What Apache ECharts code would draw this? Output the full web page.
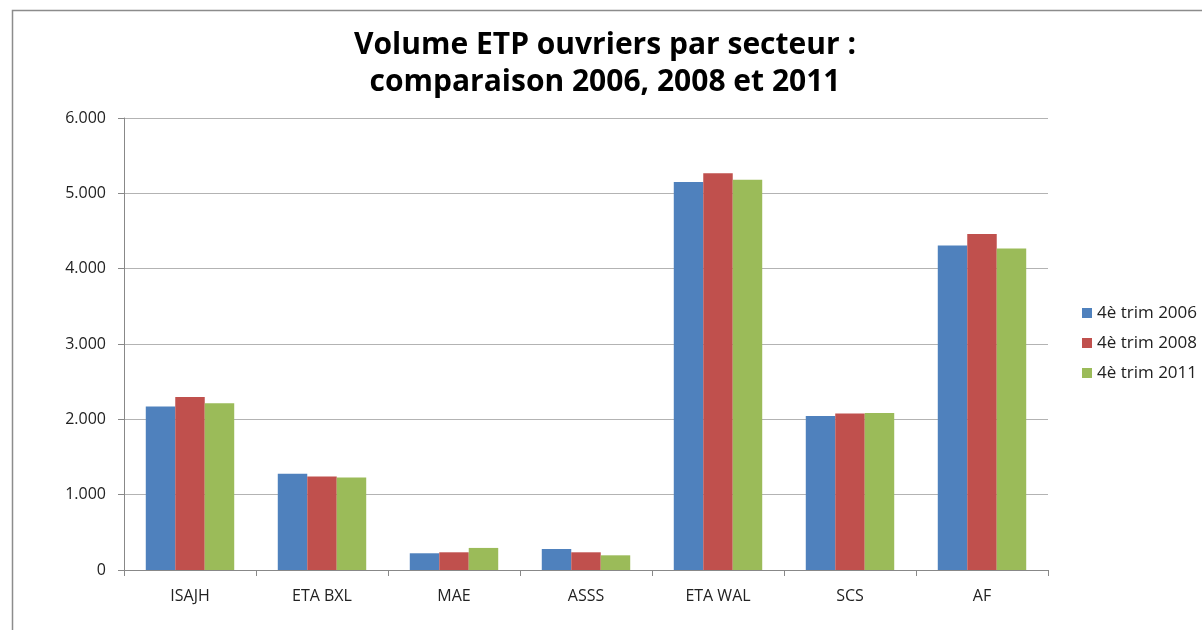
<!DOCTYPE html>
<html>
<head>
<meta charset="utf-8">
<script src="https://cdn.jsdelivr.net/npm/echarts@6/dist/echarts.min.js"></script>
<style>
  html, body { margin: 0; padding: 0; background: #ffffff; }
  #chart { width: 1202px; height: 630px; }
</style>
</head>
<body>
<div id="chart"></div>
<script>
// Sectors on the category axis
const categories = ['ISAJH', 'ETA BXL', 'MAE', 'ASSS', 'ETA WAL', 'SCS', 'AF'];
// Worker FTE volume per sector, Q4 of each year
const trim2006 = [2172, 1277, 222, 279, 5152, 2044, 4307];
const trim2008 = [2297, 1241, 235, 235, 5267, 2076, 4459];
const trim2011 = [2212, 1228, 293, 195, 5179, 2084, 4267];
const seriesNames = ['4è trim 2006', '4è trim 2008', '4è trim 2011'];
const yTicks = { min: 0, max: 6000, interval: 1000 };

const colors = ['#4F81BD', '#C0504D', '#9BBB59'];
const labelFont = "'Open Sans', sans-serif";

const chart = echarts.init(document.getElementById('chart'), null, { renderer: 'canvas' });

// Thousands separator as a dot: 6000 -> 6.000
function fmtThousands(v) {
  return String(v).replace(/\B(?=(\d{3})+(?!\d))/g, '.');
}

const data = [trim2006, trim2008, trim2011];

chart.setOption({
  animation: false,
  backgroundColor: '#ffffff',
  color: colors,
  graphic: [{
    type: 'polyline',
    shape: { points: [[12.5, 640], [12.5, 10.5], [1210, 10.5]] },
    style: { stroke: '#8c8c8c', lineWidth: 1.5, fill: null },
    silent: true
  }],
  title: {
    text: 'Volume ETP ouvriers par secteur :\ncomparaison 2006, 2008 et 2011',
    left: 600,
    textAlign: 'center',
    top: 22,
    textStyle: {
      fontFamily: labelFont,
      fontWeight: 'bold',
      fontSize: 30,
      lineHeight: 37,
      color: '#000000'
    }
  },
  legend: {
    orient: 'vertical',
    left: 1077,
    top: 299,
    itemWidth: 10,
    itemHeight: 10,
    itemGap: 12,
    icon: 'rect',
    textStyle: { fontFamily: labelFont, fontSize: 17, lineHeight: 18, color: '#222' },
    data: seriesNames
  },
  grid: { left: 124, right: 154, top: 118, bottom: 60, containLabel: false },
  xAxis: {
    type: 'category',
    data: categories,
    axisLine: { lineStyle: { color: '#888888', width: 1 } },
    axisTick: { show: true, length: 6, lineStyle: { color: '#888888' } },
    axisLabel: {
      margin: 18,
      fontFamily: labelFont,
      fontSize: 16,
      color: '#222'
    }
  },
  yAxis: {
    type: 'value',
    min: yTicks.min,
    max: yTicks.max,
    interval: yTicks.interval,
    axisLine: { show: true, lineStyle: { color: '#888888', width: 1 } },
    axisTick: { show: true, length: 6, lineStyle: { color: '#888888' } },
    splitLine: { lineStyle: { color: '#b3b3b3', width: 1 } },
    axisLabel: {
      margin: 18,
      fontFamily: labelFont,
      fontSize: 16,
      color: '#222',
      formatter: fmtThousands
    }
  },
  series: seriesNames.map((name, i) => ({
    name: name,
    type: 'bar',
    data: data[i],
    barGap: '0%',
    barCategoryGap: '33%',
    itemStyle: { color: colors[i] }
  }))
});
</script>
</body>
</html>
